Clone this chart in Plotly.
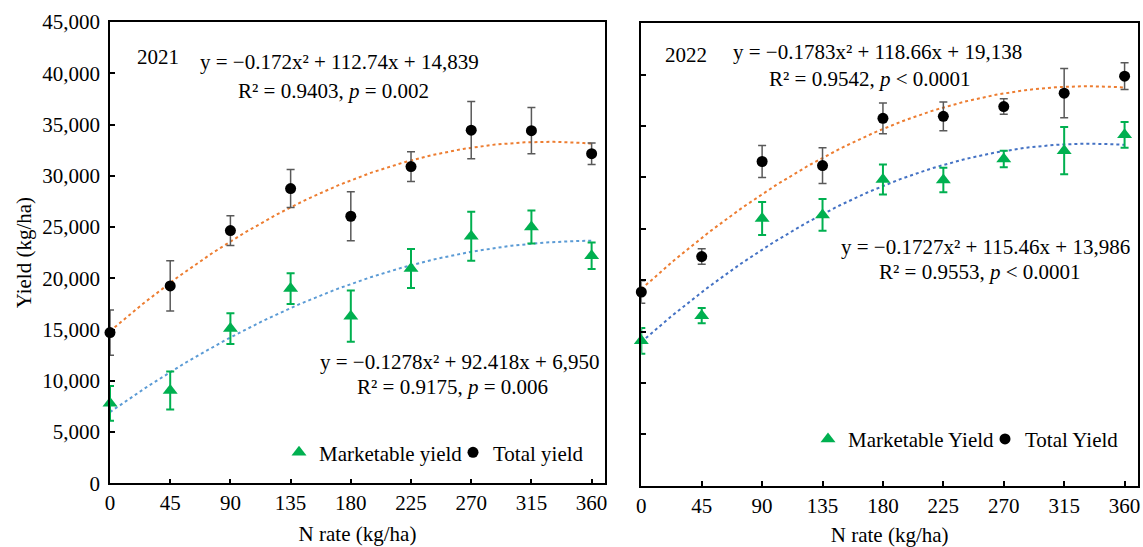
import numpy as np
import plotly.graph_objects as go

# ---------------- data ----------------
n_rate = [0, 45, 90, 135, 180, 225, 270, 315, 360]

total_2021 = [14700, 19250, 24650, 28750, 26050, 30900, 34450, 34400, 32150]
total_2021_err = [2200, 2450, 1450, 1850, 2400, 1450, 2800, 2250, 1050]
mkt_2021 = [7800, 9050, 15100, 19000, 16300, 20950, 24100, 25000, 22200]
mkt_2021_err = [1700, 1850, 1500, 1500, 2500, 1900, 2400, 1600, 1300]

total_2022 = [18850, 22300, 31550, 31150, 35750, 35950, 36900, 38200, 39850]
total_2022_err = [1100, 750, 1550, 1750, 1500, 1400, 750, 2400, 1300]
mkt_2022 = [14100, 16550, 26000, 26350, 29800, 29750, 31800, 32600, 34150]
mkt_2022_err = [1250, 750, 1600, 1550, 1450, 1200, 800, 2300, 1250]

# quadratic trend coefficients (a, b, c) for y = a x^2 + b x + c
trend_total_2021 = [-0.172, 112.74, 14839]
trend_mkt_2021 = [-0.1278, 92.418, 6950]
trend_total_2022 = [-0.1783, 118.66, 19138]
trend_mkt_2022 = [-0.1727, 115.46, 13986]

x_ticks = [0, 45, 90, 135, 180, 225, 270, 315, 360]

# ---------------- styles ----------------
FONT = "Liberation Serif"
GREEN = "#00B050"
BLACK = "#000000"
GRAY = "#595959"
ORANGE = "#ED7D31"
BLUE_L = "#5B9BD5"
BLUE_R = "#4472C4"
FS = 21

fig = go.Figure()

xs = np.linspace(0, 360, 181)


def add_panel(xa, ya, total, total_err, mkt, mkt_err, tt, tm, blue, legend, names):
    fig.add_trace(go.Scatter(x=xs, y=np.polyval(tm, xs), mode="lines",
                             line=dict(color=blue, width=2, dash="dot"),
                             xaxis=xa, yaxis=ya, showlegend=False, hoverinfo="skip"))
    fig.add_trace(go.Scatter(x=xs, y=np.polyval(tt, xs), mode="lines",
                             line=dict(color=ORANGE, width=2, dash="dot"),
                             xaxis=xa, yaxis=ya, showlegend=False, hoverinfo="skip"))
    fig.add_trace(go.Scatter(x=n_rate, y=mkt, mode="markers", name=names[0],
                             marker=dict(symbol="triangle-up", size=13, color=GREEN),
                             error_y=dict(type="data", array=mkt_err, visible=True,
                                          color=GREEN, thickness=2, width=4),
                             xaxis=xa, yaxis=ya, legend=legend, cliponaxis=False))
    fig.add_trace(go.Scatter(x=n_rate, y=total, mode="markers", name=names[1],
                             marker=dict(symbol="circle", size=11, color=BLACK),
                             error_y=dict(type="data", array=total_err, visible=True,
                                          color=GRAY, thickness=1.5, width=4),
                             xaxis=xa, yaxis=ya, legend=legend, cliponaxis=False))


add_panel("x", "y", total_2021, total_2021_err, mkt_2021, mkt_2021_err,
          trend_total_2021, trend_mkt_2021, BLUE_L, "legend",
          ["Marketable yield", "Total yield"])
add_panel("x2", "y2", total_2022, total_2022_err, mkt_2022, mkt_2022_err,
          trend_total_2022, trend_mkt_2022, BLUE_R, "legend2",
          ["Marketable Yield", "Total Yield"])

W, H = 1143, 547
ML, MR, MT, MB = 110, 5, 22, 61
PW, PH = W - ML - MR, H - MT - MB


def px_x(px):
    return (px - ML) / PW


def px_y(py):
    return (H - MB - py) / PH


axis_common = dict(showline=True, linecolor=BLACK, linewidth=1.5, mirror=True,
                   ticks="inside", ticklen=5, tickcolor=BLACK, tickwidth=1.5,
                   showgrid=False, zeroline=False, automargin=False,
                   tickfont=dict(family=FONT, size=FS, color=BLACK))

fig.update_layout(
    template="none",
    width=W, height=H,
    margin=dict(l=ML, r=MR, t=MT, b=MB, autoexpand=False),
    paper_bgcolor="white", plot_bgcolor="white",
    font=dict(family=FONT, size=FS, color=BLACK),
    xaxis=dict(domain=[0, px_x(605)], range=[0, 370], tickvals=x_ticks,
               title=dict(text="N rate (kg/ha)", font=dict(family=FONT, size=FS), standoff=12),
               anchor="y", **axis_common),
    yaxis=dict(domain=[px_y(483.3), 1], range=[0, 45000], dtick=5000, tickformat=",",
               ticklabelstandoff=4,
               title=dict(text="Yield (kg/ha)", font=dict(family=FONT, size=FS), standoff=5),
               anchor="x", **axis_common),
    xaxis2=dict(domain=[px_x(641.3), 1], range=[0, 370], tickvals=x_ticks,
                title=dict(text="N rate (kg/ha)", font=dict(family=FONT, size=FS), standoff=12),
                anchor="y2", **axis_common),
    yaxis2=dict(domain=[px_y(485.7), px_y(23.3)], range=[0, 45000], dtick=5000,
                showticklabels=False, anchor="x2", **axis_common),
    legend=dict(orientation="h", x=px_x(279), y=px_y(452.7), xanchor="left", yanchor="middle",
                font=dict(family=FONT, size=FS), bgcolor="rgba(0,0,0,0)", borderwidth=0,
                itemwidth=30, tracegroupgap=0, entrywidth=129),
    legend2=dict(orientation="h", x=px_x(808), y=px_y(439.3), xanchor="left", yanchor="middle",
                 font=dict(family=FONT, size=FS), bgcolor="rgba(0,0,0,0)", borderwidth=0,
                 itemwidth=30, tracegroupgap=0, entrywidth=132),
    showlegend=True,
)


def note(text, cx, cy):
    fig.add_annotation(text=text, x=px_x(cx), y=px_y(cy), xref="paper", yref="paper",
                       xanchor="center", yanchor="middle", showarrow=False,
                       font=dict(family=FONT, size=FS, color=BLACK))


note("2021", 158, 57)
note("y = −0.172x² + 112.74x + 14,839", 339, 61.7)
note("R² = 0.9403, <i>p</i> = 0.002", 333.6, 90.7)
note("y = −0.1278x² + 92.418x + 6,950", 459, 361.7)
note("R² = 0.9175, <i>p</i> = 0.006", 452, 386.7)

note("2022", 686, 55)
note("y = −0.1783x² + 118.66x + 19,138", 877, 51.7)
note("R² = 0.9542, <i>p</i> &lt; 0.0001", 870, 79.3)
note("y = −0.1727x² + 115.46x + 13,986", 985.8, 246.7)
note("R² = 0.9553, <i>p</i> &lt; 0.0001", 980, 271.7)

fig.write_html("out.html",
               config={"displayModeBar": False},
               post_script="document.body.style.margin='0';")
